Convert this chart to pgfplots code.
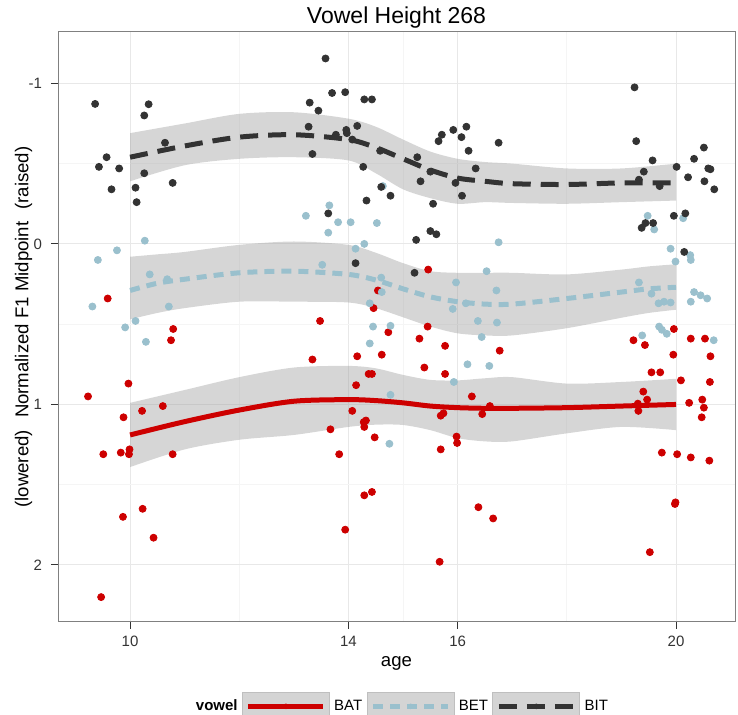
\documentclass[border=0pt]{standalone}
\usepackage{fontspec}
\setmainfont{Liberation Sans}
\usepackage{pgfplots}
\usepackage{pgfplotstable}
\pgfplotsset{compat=1.18}
\usepgfplotslibrary{fillbetween}
\usetikzlibrary{calc}

\definecolor{batred}{HTML}{CD0000}
\definecolor{betblue}{HTML}{9AC0CD}
\definecolor{bitgrey}{HTML}{333333}

% loess fits: x, fit, upper band, lower band
\pgfplotstableread{
x fit lo hi
10 1.19 0.99 1.39
11 1.107 0.91 1.28
12 1.035 0.83 1.22
13 0.98 0.77 1.19
14 0.97 0.76 1.14
14.5 0.976 0.775 1.126
15 0.99 0.816 1.128
15.5 1.01 0.847 1.16
16 1.02 0.85 1.21
16.5 1.024 0.837 1.23
17 1.024 0.83 1.23
18 1.02 0.87 1.18
19 1.01 0.86 1.14
20 1.00 0.84 1.16
}\batsm
\pgfplotstableread{
x fit lo hi
10 0.29 0.08 0.47
10.5 0.245 0.065 0.43
11 0.22 0.05 0.40
12 0.18 0.006 0.36
13 0.17 -0.015 0.36
14 0.19 0.006 0.365
14.5 0.225 0.055 0.40
15 0.28 0.12 0.457
15.5 0.33 0.17 0.515
16 0.36 0.18 0.557
16.5 0.375 0.18 0.57
17 0.375 0.18 0.57
18 0.34 0.19 0.525
19 0.30 0.16 0.46
19.5 0.28 0.14 0.43
20 0.27 0.127 0.41
}\betsm
\pgfplotstableread{
x fit lo hi
10 -0.54 -0.69 -0.39
11 -0.61 -0.75 -0.49
12 -0.665 -0.81 -0.53
13 -0.68 -0.82 -0.54
14 -0.65 -0.78 -0.52
14.5 -0.60 -0.73 -0.44
15 -0.53 -0.65 -0.34
15.5 -0.46 -0.575 -0.285
16 -0.41 -0.53 -0.25
16.5 -0.39 -0.51 -0.26
17 -0.375 -0.50 -0.255
18 -0.37 -0.47 -0.25
19 -0.38 -0.47 -0.26
20 -0.38 -0.50 -0.27
}\bitsm

\pgfplotsset{vkey/.style={legend image code/.code={
  \path[fill=black!17, draw=black!25, line width=0.4pt, solid] (0pt,-7pt) rectangle (43.5pt,7pt);
  \draw (3pt,0pt) -- (40.5pt,0pt);
  \path[fill, draw=none, solid] (21.75pt,0pt) circle[radius=1.4pt];
}}}

\begin{document}
\begin{tikzpicture}
\begin{axis}[
  name=ax,
  scale only axis, width=338.5pt, height=295pt,
  xmin=8.68, xmax=21.08, ymin=-1.32, ymax=2.355, y dir=reverse,
  xtick={10,14,16,20}, ytick={-1,0,1,2},
  minor xtick={12,15,18}, minor ytick={-0.5,0.5,1.5},
  grid=both,
  major grid style={black!9, line width=0.5pt},
  minor grid style={black!4, line width=0.5pt},
  axis line style={black!50, line width=0.5pt},
  tick align=outside, major tick length=3.5pt, minor tick length=0pt,
  tick style={black!80, line width=0.5pt},
  xtick pos=bottom, ytick pos=left,
  /pgf/number format/assume math mode=true,
  ticklabel style={font=\fontsize{7.5}{9}\selectfont, text=black!80},
  yticklabel style={xshift=-1pt},
  xlabel={age},
  xlabel style={font=\fontsize{9.3}{11}\selectfont, at={(0.5,-0.07)}, anchor=center},
  ylabel={(lowered)\hspace{6pt}Normalized F1 Midpoint\hspace{6pt}(raised)},
  ylabel style={font=\fontsize{9.3}{11}\selectfont, at={(-0.051,0.5)}, anchor=center},
  legend columns=4,
  legend style={at={(0.5066,-0.143)}, anchor=center, draw=none, fill=none,
    font=\fontsize{7.5}{9}\selectfont, column sep=1pt, nodes={inner sep=1.2pt}},
]
% raw points
\addplot[only marks, mark=*, mark size=1.75pt, color=batred, forget plot] table {
9.59 0.34
10.79 0.53
10.75 0.60
9.97 0.87
9.23 0.95
9.88 1.08
10.22 1.04
10.60 1.01
9.51 1.31
9.83 1.30
9.99 1.28
9.98 1.31
10.78 1.31
10.23 1.65
9.87 1.70
10.43 1.83
9.47 2.20
15.46 0.16
14.54 0.29
14.46 0.40
13.48 0.48
14.73 0.55
15.45 0.515
15.30 0.59
15.77 0.635
16.77 0.665
13.34 0.72
14.16 0.70
14.61 0.69
15.39 0.77
15.77 0.81
14.37 0.81
14.43 0.81
14.14 0.88
16.26 0.95
16.59 1.01
16.45 1.06
14.07 1.04
14.32 1.10
14.28 1.11
15.74 1.055
15.69 1.07
13.67 1.155
14.29 1.14
14.48 1.205
13.83 1.31
15.69 1.28
15.98 1.20
15.99 1.24
14.29 1.566
14.43 1.545
13.94 1.78
16.38 1.64
16.65 1.71
15.67 1.98
19.96 0.53
19.22 0.60
19.43 0.63
20.27 0.59
20.53 0.59
19.95 0.69
20.63 0.70
19.55 0.80
19.71 0.80
20.09 0.85
20.62 0.86
19.40 0.92
19.47 0.97
19.30 0.995
19.31 1.04
20.24 0.99
20.48 0.97
20.51 1.02
20.47 1.08
19.74 1.30
20.02 1.31
20.27 1.33
20.61 1.35
19.99 1.61
19.98 1.62
19.52 1.92
};
\addplot[only marks, mark=*, mark size=1.75pt, color=betblue, forget plot] table {
10.27 -0.02
9.76 0.04
9.41 0.10
10.36 0.19
10.68 0.22
9.31 0.39
10.71 0.39
10.10 0.48
9.91 0.52
10.29 0.61
13.22 -0.175
13.65 -0.24
13.63 -0.07
13.81 -0.135
14.04 -0.135
14.52 -0.13
14.29 0.00
14.13 0.03
14.63 -0.36
16.75 -0.01
13.52 0.13
14.60 0.21
14.61 0.30
14.39 0.37
14.45 0.515
14.77 0.51
14.39 0.62
15.97 0.24
15.91 0.405
16.15 0.37
16.37 0.48
16.53 0.17
16.71 0.29
16.72 0.49
16.44 0.58
16.18 0.75
16.58 0.76
15.93 0.86
14.77 0.94
14.75 1.245
19.48 -0.175
19.60 -0.09
20.13 -0.16
19.90 0.03
20.26 0.07
20.27 0.10
19.99 0.11
19.32 0.24
19.55 0.31
19.68 0.37
19.78 0.36
19.90 0.365
20.33 0.30
20.45 0.32
20.57 0.34
20.27 0.36
19.69 0.515
19.74 0.535
19.83 0.56
19.38 0.57
20.69 0.60
};
\addplot[only marks, mark=*, mark size=1.75pt, color=bitgrey, forget plot] table {
9.36 -0.872
10.34 -0.870
10.26 -0.80
10.64 -0.63
9.57 -0.54
9.43 -0.48
9.80 -0.47
10.26 -0.44
10.78 -0.38
9.66 -0.34
10.10 -0.35
10.12 -0.26
13.58 -1.155
13.70 -0.94
13.94 -0.945
14.29 -0.90
14.43 -0.90
13.29 -0.88
13.45 -0.83
13.27 -0.73
13.77 -0.68
13.96 -0.71
13.97 -0.69
14.16 -0.735
14.07 -0.65
13.34 -0.56
14.58 -0.58
14.27 -0.48
15.26 -0.54
15.50 -0.45
15.32 -0.39
14.60 -0.355
14.77 -0.30
14.33 -0.27
13.63 -0.19
15.55 -0.25
15.24 -0.025
15.50 -0.08
15.61 -0.06
15.65 -0.64
15.71 -0.68
15.92 -0.71
16.16 -0.73
16.07 -0.665
16.20 -0.58
16.33 -0.47
15.96 -0.38
16.08 -0.30
16.75 -0.63
14.13 0.12
15.21 0.18
19.24 -0.975
19.27 -0.64
19.57 -0.52
19.41 -0.45
19.32 -0.40
19.70 -0.36
20.01 -0.48
20.22 -0.415
20.51 -0.60
20.33 -0.53
20.59 -0.47
20.63 -0.465
20.52 -0.39
20.70 -0.34
19.96 -0.175
20.17 -0.19
19.44 -0.13
19.58 -0.13
19.37 -0.10
20.15 0.05
};

% legend header
\addlegendimage{empty legend}
\addlegendentry{\textbf{vowel}}

% BAT band + fit
\addplot[name path=batlo, draw=none, smooth, forget plot] table[x=x, y=lo] {\batsm};
\addplot[name path=bathi, draw=none, smooth, forget plot] table[x=x, y=hi] {\batsm};
\addplot[fill=black!40, fill opacity=0.4, draw=none, forget plot] fill between[of=batlo and bathi];
\addplot[batred, line width=2.5pt, smooth, vkey] table[x=x, y=fit] {\batsm};
\addlegendentry{BAT}

% BET band + fit
\addplot[name path=betlo, draw=none, smooth, forget plot] table[x=x, y=lo] {\betsm};
\addplot[name path=bethi, draw=none, smooth, forget plot] table[x=x, y=hi] {\betsm};
\addplot[fill=black!40, fill opacity=0.4, draw=none, forget plot] fill between[of=betlo and bethi];
\addplot[betblue, line width=2.5pt, smooth, dash pattern=on 5pt off 3.5pt, vkey] table[x=x, y=fit] {\betsm};
\addlegendentry{BET}

% BIT band + fit
\addplot[name path=bitlo, draw=none, smooth, forget plot] table[x=x, y=lo] {\bitsm};
\addplot[name path=bithi, draw=none, smooth, forget plot] table[x=x, y=hi] {\bitsm};
\addplot[fill=black!40, fill opacity=0.4, draw=none, forget plot] fill between[of=bitlo and bithi];
\addplot[bitgrey, line width=2.5pt, smooth, dash pattern=on 9pt off 5pt, vkey] table[x=x, y=fit] {\bitsm};
\addlegendentry{BIT}
\end{axis}
\node[font=\fontsize{11.5}{13}\selectfont, anchor=center] at ($(ax.north)+(0,7pt)$) {Vowel Height 268};
\pgfresetboundingbox
\path ($(ax.south west)+(-29pt,-46.5pt)$) rectangle ($(ax.north east)+(1.5pt,16pt)$);
\end{tikzpicture}
\end{document}
